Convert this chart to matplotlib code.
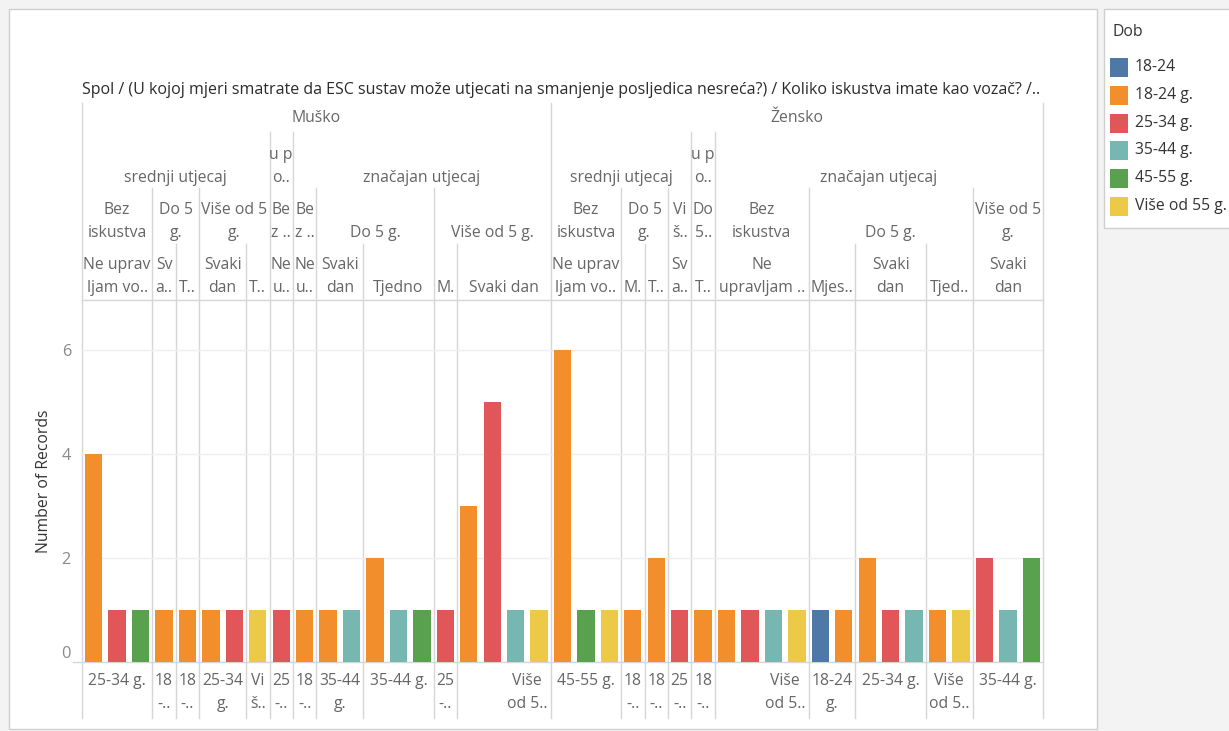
import matplotlib
matplotlib.use("Agg")
import matplotlib.pyplot as plt
from matplotlib.patches import Rectangle
from matplotlib.lines import Line2D
from matplotlib.transforms import blended_transform_factory

plt.rcParams['font.family'] = ['Open Sans', 'DejaVu Sans']

# bar values (Number of Records) and colour category (Dob), left to right
values = [4, 1, 1, 1, 1, 1, 1, 1, 1, 1, 1, 1, 2, 1, 1, 1, 3, 5, 1, 1,
          6, 1, 1, 1, 2, 1, 1, 1, 1, 1, 1, 1, 1, 2, 1, 1, 1, 1, 2, 1, 2]
dob = ['18-24 g.', '25-34 g.', '45-55 g.', '18-24 g.', '18-24 g.', '18-24 g.', '25-34 g.',
       'Više od 55 g.', '25-34 g.', '18-24 g.', '18-24 g.', '35-44 g.', '18-24 g.', '35-44 g.',
       '45-55 g.', '25-34 g.', '18-24 g.', '25-34 g.', '35-44 g.', 'Više od 55 g.',
       '18-24 g.', '45-55 g.', 'Više od 55 g.', '18-24 g.', '18-24 g.', '25-34 g.', '18-24 g.',
       '18-24 g.', '25-34 g.', '35-44 g.', 'Više od 55 g.', '18-24', '18-24 g.', '18-24 g.',
       '25-34 g.', '35-44 g.', '18-24 g.', 'Više od 55 g.', '25-34 g.', '35-44 g.', '45-55 g.']

legend_labels = ['18-24', '18-24 g.', '25-34 g.', '35-44 g.', '45-55 g.', 'Više od 55 g.']
legend_colors = ['#4e79a7', '#f28e2b', '#e15759', '#76b7b2', '#59a14f', '#edc948']

title = ("Spol / (U kojoj mjeri smatrate da ESC sustav može utjecati na smanjenje "
         "posljedica nesreća?) / Koliko iskustva imate kao vozač? /..")

# header rows: (label, number of bars spanned)
row1 = [("Muško", 20), ("Žensko", 21)]
row2 = [("srednji utjecaj", 8), ("u p\no..", 1), ("značajan utjecaj", 11),
        ("srednji utjecaj", 6), ("u p\no..", 1), ("značajan utjecaj", 14)]
row3 = [("Bez\niskustva", 3), ("Do 5\ng.", 2), ("Više od 5\ng.", 3), ("Be\nz ..", 1),
        ("Be\nz ..", 1), ("Do 5 g.", 5), ("Više od 5 g.", 5),
        ("Bez\niskustva", 3), ("Do 5\ng.", 2), ("Vi\nš..", 1), ("Do\n5..", 1),
        ("Bez\niskustva", 4), ("Do 5 g.", 7), ("Više od 5\ng.", 3)]
row4 = [("Ne uprav\nljam vo..", 3), ("Sv\na..", 1), ("T..", 1), ("Svaki\ndan", 2), ("T..", 1),
        ("Ne\nu..", 1), ("Ne\nu..", 1), ("Svaki\ndan", 2), ("Tjedno", 3), ("M.", 1),
        ("Svaki dan", 4),
        ("Ne uprav\nljam vo..", 3), ("M.", 1), ("T..", 1), ("Sv\na..", 1), ("T..", 1),
        ("Ne\nupravljam ..", 4), ("Mjes..", 2), ("Svaki\ndan", 3), ("Tjed..", 2),
        ("Svaki\ndan", 3)]
bottom_row = [("25-34 g.", 3), ("18\n-..", 1), ("18\n-..", 1), ("25-34\ng.", 2), ("Vi\nš..", 1),
              ("25\n-..", 1), ("18\n-..", 1), ("35-44\ng.", 2), ("35-44 g.", 3), ("25\n-..", 1),
              ("", 2), ("Više\nod 5..", 2),
              ("45-55 g.", 3), ("18\n-..", 1), ("18\n-..", 1), ("25\n-..", 1), ("18\n-..", 1),
              ("", 2), ("Više\nod 5..", 2), ("18-24\ng.", 2), ("25-34 g.", 3),
              ("Više\nod 5..", 2), ("35-44 g.", 3)]

W, H = 1229, 731
fig = plt.figure(figsize=(W / 100, H / 100), dpi=100)
fig.patch.set_facecolor('#f3f3f3')

# background/overlay axes in pixel units
bg = fig.add_axes([0, 0, 1, 1], zorder=-1)
bg.set_xlim(0, W)
bg.set_ylim(H, 0)
bg.axis('off')
bg.add_patch(Rectangle((9, 9), 1088, 720, facecolor='white', edgecolor='#cfcfcf', lw=1))
bg.add_patch(Rectangle((1104, 9), 130, 219, facecolor='white', edgecolor='#cfcfcf', lw=1))

fs = 11.3

# plot area
left, right, top, base = 82, 1043, 300, 662
ax = fig.add_axes([left / W, 1 - base / H, (right - left) / W, (base - top) / H])
ax.patch.set_visible(False)
n = len(values)
xs = [i + 0.5 for i in range(n)]
cmap = dict(zip(legend_labels, legend_colors))
ax.bar(xs, values, width=0.74, color=[cmap[d] for d in dob], zorder=3)
ax.set_xlim(0, n)
ax.set_ylim(0, (base - top) / 52)
ax.set_yticks([0, 2, 4, 6])
ax.set_xticks([])
ax.tick_params(axis='y', length=0, pad=8, labelsize=fs + 0.5, labelcolor='#8a8a8a')
for lab in ax.get_yticklabels():
    if lab.get_text() == '0':
        lab.set_va('bottom')
for s in ax.spines.values():
    s.set_visible(False)
ax.grid(axis='y', color='#efefef', lw=1, zorder=0)

trans = blended_transform_factory(ax.transData, bg.transData)
line_col = '#d6d6d6'
text_col = '#666666'


def spans(groups):
    pos = 0
    for lab, k in groups:
        yield lab, pos, k
        pos += k


def draw_row(groups, y_last, bottom_aligned=True):
    for lab, start, k in spans(groups):
        lines = lab.split('\n')
        for j, line in enumerate(lines):
            if bottom_aligned:
                y = y_last - (len(lines) - 1 - j) * 23
            else:
                y = y_last + j * 23
            bg.text(start + k / 2, y, line, transform=trans, ha='center', va='center',
                    fontsize=fs, color=text_col)


draw_row(row1, 118)
draw_row(row2, 178)
draw_row(row3, 233)
draw_row(row4, 288)
draw_row(bottom_row, 681, bottom_aligned=False)

# vertical separator lines, starting at the highest header level they divide
tops = {}
for rows, ytop in [(row4, 244), (row3, 188), (row2, 132), (row1, 103)]:
    for lab, start, k in spans(rows):
        tops[start] = ytop
        tops[start + k] = ytop
for b, ytop in tops.items():
    bg.add_line(Line2D([b, b], [ytop, 718], transform=trans, color=line_col, lw=1))

bg.plot([left, right], [top, top], color=line_col, lw=1)
bg.plot([73, right], [base, base], color=line_col, lw=1)

bg.text(left, 90, title, ha='left', va='center', fontsize=11.5, color='#2b2b2b')
bg.text(44, (top + base) / 2, 'Number of Records', rotation=90, ha='center', va='center',
        fontsize=fs, color='#333333')

# legend
bg.text(1113, 32, 'Dob', ha='left', va='center', fontsize=fs, color='#333333')
for i, (lab, col) in enumerate(zip(legend_labels, legend_colors)):
    yc = 67 + i * 27.8
    bg.add_patch(Rectangle((1110, yc - 9), 18, 19, facecolor=col, edgecolor='none'))
    bg.text(1135, yc, lab, ha='left', va='center', fontsize=fs, color='#333333')

fig.savefig('out.png', dpi=100, facecolor=fig.get_facecolor())
